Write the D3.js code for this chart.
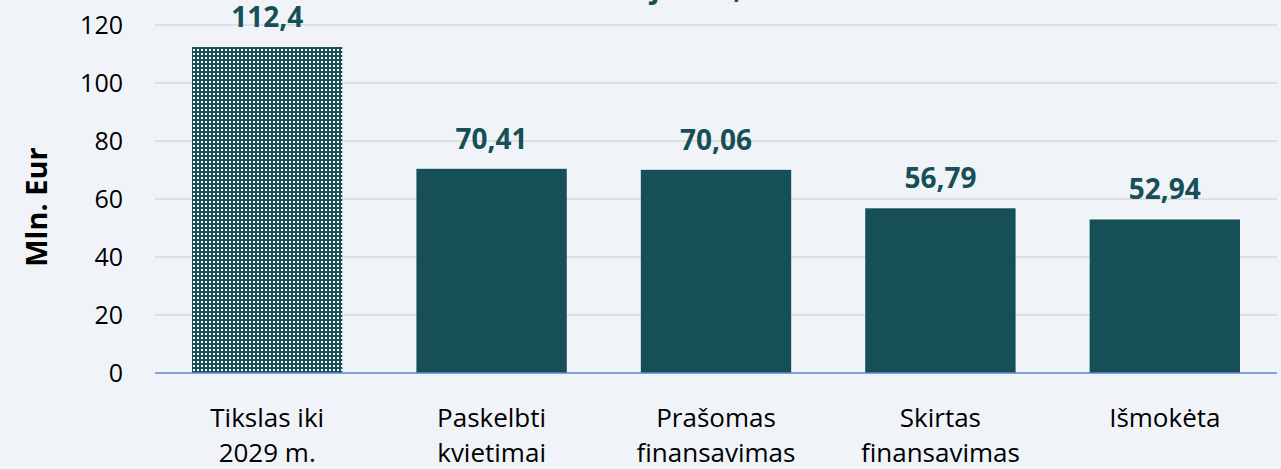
<!DOCTYPE html>
<html>
<head>
<meta charset="utf-8">
<script src="https://cdn.jsdelivr.net/npm/d3@7/dist/d3.min.js"></script>
<style>
  html, body { margin: 0; padding: 0; background: #f0f4f8; }
  svg { display: block; }
</style>
</head>
<body>
<svg id="chart" width="1281" height="469"></svg>
<script>
// Chart data
const categories = [["Tikslas iki", "2029 m."], ["Paskelbti", "kvietimai"], ["Prašomas", "finansavimas"], ["Skirtas", "finansavimas"], ["Išmokėta"]];
const values = [112.4, 70.41, 70.06, 56.79, 52.94];
const valueLabels = ["112,4", "70,41", "70,06", "56,79", "52,94"];
const yTicks = [0, 20, 40, 60, 80, 100, 120];
const titleText = "Lėšos ir objektai, 2025 m.";
const yTitle = "Mln. Eur";

const W = 1281, H = 469;
const margin = { left: 155, right: 4, top: 25, bottom: 96 };
const teal = "#174f57";
const font = "'Open Sans', sans-serif";

const svg = d3.select("#chart");
svg.append("rect").attr("width", W).attr("height", H).attr("fill", "#f0f4f8");

// Dotted fill for the target bar
const defs = svg.append("defs");
const pat = defs.append("pattern")
  .attr("id", "dots").attr("patternUnits", "userSpaceOnUse")
  .attr("width", 4).attr("height", 4);
pat.append("rect").attr("width", 4).attr("height", 4).attr("fill", teal);
pat.append("rect").attr("x", 1).attr("y", 1).attr("width", 2).attr("height", 2).attr("fill", "#ffffff");

const x = d3.scaleBand()
  .domain(d3.range(categories.length))
  .range([margin.left, W - margin.right])
  .paddingInner(0.33).paddingOuter(0.165);

const y = d3.scaleLinear().domain([0, 120]).range([H - margin.bottom, margin.top]);

// Gridlines
svg.append("g")
  .selectAll("line").data(yTicks.filter(d => d > 0)).join("line")
  .attr("x1", margin.left).attr("x2", W - margin.right)
  .attr("y1", d => y(d)).attr("y2", d => y(d))
  .attr("stroke", "#d9d9d9").attr("stroke-width", 1.5);

// Y axis labels
const yAxis = d3.axisLeft(y).tickValues(yTicks).tickSize(0).tickPadding(0).tickFormat(d3.format("d"));
const ya = svg.append("g").attr("transform", `translate(123,0)`).call(yAxis);
ya.select(".domain").remove();
ya.selectAll("text")
  .attr("font-family", font).attr("font-size", 25).attr("fill", "#000")
  .attr("dy", "0.35em");

// Bars
svg.append("g").selectAll("rect").data(values).join("rect")
  .attr("x", (d, i) => x(i)).attr("width", x.bandwidth())
  .attr("y", d => y(d)).attr("height", d => y(0) - y(d))
  .attr("fill", (d, i) => i === 0 ? "url(#dots)" : teal);

// Value labels
svg.append("g").selectAll("text").data(values).join("text")
  .attr("x", (d, i) => x(i) + x.bandwidth() / 2)
  .attr("y", d => y(d) - 20)
  .attr("text-anchor", "middle")
  .attr("font-family", font).attr("font-weight", 700)
  .attr("font-size", 28).attr("fill", teal)
  .text((d, i) => valueLabels[i]);

// Baseline
svg.append("line")
  .attr("x1", margin.left).attr("x2", W - margin.right)
  .attr("y1", y(0)).attr("y2", y(0))
  .attr("stroke", "#5b86d6").attr("stroke-width", 1.5);

// Category labels
const xa = svg.append("g");
categories.forEach((lines, i) => {
  const cx = x(i) + x.bandwidth() / 2;
  const t = xa.append("text")
    .attr("x", cx).attr("y", 427)
    .attr("text-anchor", "middle")
    .attr("font-family", font).attr("font-size", 26).attr("fill", "#000");
  lines.forEach((ln, j) => {
    t.append("tspan").attr("x", cx).attr("dy", j === 0 ? 0 : 35).text(ln);
  });
});

// Y axis title
svg.append("text")
  .attr("transform", `translate(47,${207}) rotate(-90)`)
  .attr("text-anchor", "middle")
  .attr("font-family", font).attr("font-weight", 700)
  .attr("font-size", 29).attr("fill", "#000")
  .text(yTitle);

// Chart title (sits mostly above the visible area)
svg.append("text")
  .attr("x", 497).attr("y", -2)
  .attr("font-family", font).attr("font-weight", 700)
  .attr("font-size", 29).attr("fill", teal)
  .text(titleText);
</script>
</body>
</html>
